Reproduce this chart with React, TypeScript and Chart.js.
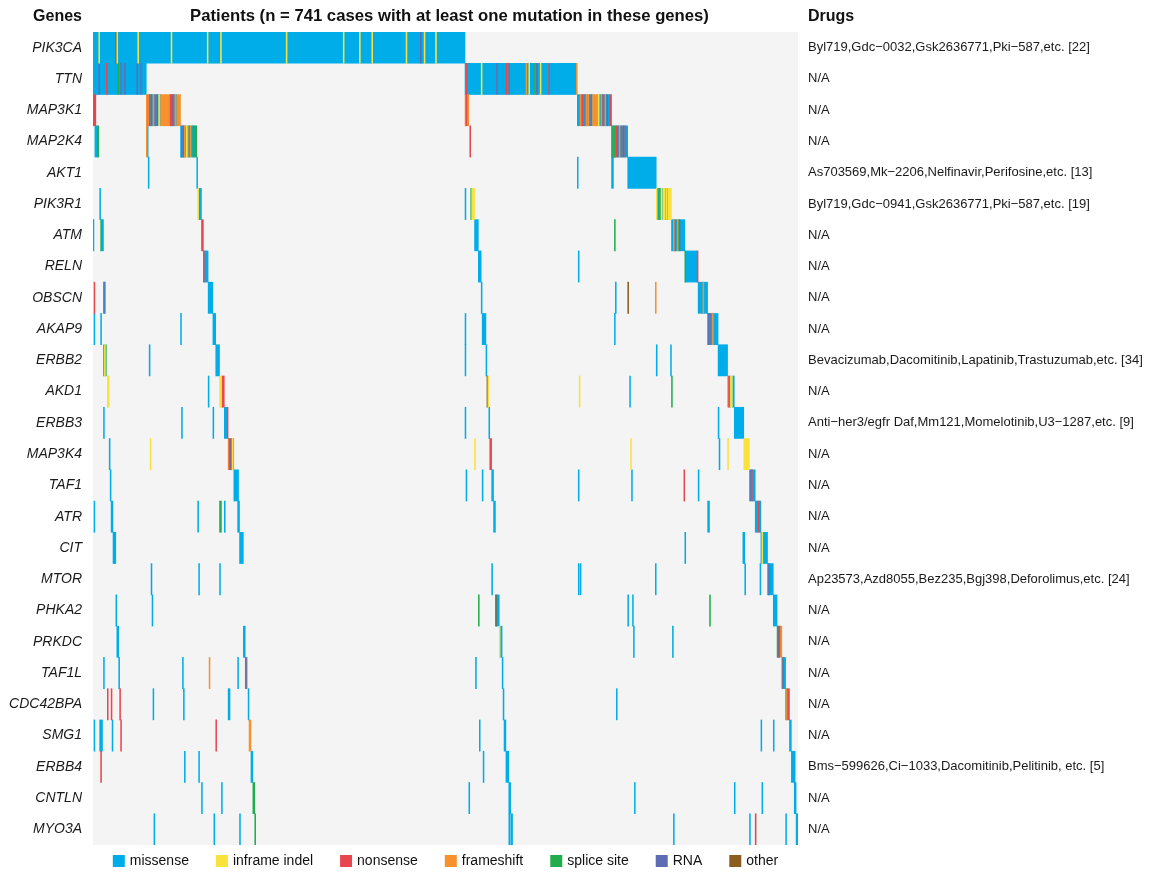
import { useEffect, useRef } from "react";
import { Chart, registerables } from "chart.js";

Chart.register(...registerables);

type Code = "m" | "i" | "n" | "f" | "s" | "r" | "o";
// [first patient, last patient (inclusive), alteration type]
type Run = [number, number, Code];

const FONT = '"Liberation Sans", Arial, Helvetica, sans-serif';
const PATIENT_COUNT = 741;

const TITLE = "Patients (n = 741 cases with at least one mutation in these genes)";
const HEADER_GENES = "Genes";
const HEADER_DRUGS = "Drugs";

const genes = [
  "PIK3CA", "TTN", "MAP3K1", "MAP2K4", "AKT1", "PIK3R1", "ATM", "RELN", "OBSCN",
  "AKAP9", "ERBB2", "AKD1", "ERBB3", "MAP3K4", "TAF1", "ATR", "CIT", "MTOR",
  "PHKA2", "PRKDC", "TAF1L", "CDC42BPA", "SMG1", "ERBB4", "CNTLN", "MYO3A",
];

const drugs = [
  "Byl719,Gdc\u22120032,Gsk2636771,Pki\u2212587,etc. [22]",
  "N/A",
  "N/A",
  "N/A",
  "As703569,Mk\u22122206,Nelfinavir,Perifosine,etc. [13]",
  "Byl719,Gdc\u22120941,Gsk2636771,Pki\u2212587,etc. [19]",
  "N/A",
  "N/A",
  "N/A",
  "N/A",
  "Bevacizumab,Dacomitinib,Lapatinib,Trastuzumab,etc. [34]",
  "N/A",
  "Anti\u2212her3/egfr Daf,Mm121,Momelotinib,U3\u22121287,etc. [9]",
  "N/A",
  "N/A",
  "N/A",
  "N/A",
  "Ap23573,Azd8055,Bez235,Bgj398,Deforolimus,etc. [24]",
  "N/A",
  "N/A",
  "N/A",
  "N/A",
  "N/A",
  "Bms\u2212599626,Ci\u22121033,Dacomitinib,Pelitinib, etc. [5]",
  "N/A",
  "N/A",
];

const typeCodes: Code[] = ["m", "i", "n", "f", "s", "r", "o"];
const typeLabels = ["missense", "inframe indel", "nonsense", "frameshift", "splice site", "RNA", "other"];
const typeColors = ["#00ADE9", "#F9E23C", "#E8464F", "#F7912E", "#22AD4C", "#5D6CB3", "#8B5E1F"];
const BACKGROUND = "#F4F4F4";

const PIK3CA: Run[] = [
  [0, 5, "m"], [6, 6, "i"], [7, 23, "m"], [24, 24, "o"], [25, 25, "i"], [26, 46, "m"], [47, 47, "i"],
  [48, 81, "m"], [82, 82, "i"], [83, 119, "m"], [120, 120, "i"], [121, 133, "m"], [134, 134, "i"],
  [135, 202, "m"], [203, 203, "i"], [204, 262, "m"], [263, 263, "i"], [264, 279, "m"], [280, 280, "i"],
  [281, 292, "m"], [293, 293, "i"], [294, 328, "m"], [329, 329, "i"], [330, 343, "m"], [344, 344, "r"],
  [345, 347, "m"], [348, 348, "i"], [349, 359, "m"], [360, 360, "i"], [361, 390, "m"],
];

const TTN: Run[] = [
  [0, 5, "m"], [6, 6, "r"], [7, 13, "m"], [14, 14, "n"], [15, 25, "m"], [26, 26, "s"], [27, 28, "m"],
  [29, 29, "r"], [30, 32, "m"], [33, 33, "r"], [34, 45, "m"], [46, 46, "r"], [47, 49, "m"], [50, 50, "r"],
  [51, 55, "m"],
  [391, 391, "m"], [392, 392, "n"], [393, 407, "m"], [408, 408, "i"], [409, 423, "m"], [424, 424, "r"],
  [425, 433, "m"], [434, 434, "n"], [435, 436, "m"], [437, 437, "n"], [438, 454, "m"], [455, 455, "f"],
  [456, 457, "m"], [458, 458, "i"], [459, 462, "m"], [463, 463, "s"], [464, 465, "m"], [466, 466, "r"],
  [467, 469, "m"], [470, 470, "i"], [471, 478, "m"], [479, 479, "n"], [480, 507, "m"], [508, 508, "f"],
];

const MAP3K1: Run[] = [
  [0, 2, "n"],
  [56, 56, "f"], [57, 57, "m"], [58, 58, "f"], [59, 59, "n"], [60, 60, "m"], [61, 61, "r"], [62, 62, "m"],
  [63, 63, "f"], [64, 64, "m"], [65, 65, "n"], [66, 66, "m"], [67, 67, "r"], [68, 68, "m"], [69, 69, "i"],
  [70, 70, "m"], [71, 80, "f"], [81, 81, "n"], [82, 82, "m"], [83, 83, "r"], [84, 84, "n"], [85, 85, "m"],
  [86, 86, "f"], [87, 87, "m"], [88, 91, "f"],
  [391, 391, "f"], [392, 392, "n"], [393, 394, "f"],
  [509, 511, "m"], [512, 512, "f"], [513, 513, "m"], [514, 514, "n"], [515, 516, "m"], [517, 517, "r"],
  [518, 518, "f"], [519, 519, "m"], [520, 520, "f"], [521, 522, "m"], [523, 523, "r"], [524, 524, "m"],
  [525, 530, "f"], [531, 531, "i"], [532, 533, "m"], [534, 534, "f"], [535, 535, "r"], [536, 536, "n"],
  [537, 537, "m"], [538, 538, "f"], [539, 539, "m"], [540, 540, "r"], [541, 542, "m"], [543, 544, "n"],
];

const MAP2K4: Run[] = [
  [2, 4, "m"], [5, 5, "s"], [56, 56, "f"], [57, 57, "m"],
  [92, 92, "m"], [93, 93, "r"], [94, 94, "m"], [95, 95, "r"], [96, 96, "f"], [97, 97, "m"], [98, 98, "i"],
  [99, 99, "f"], [100, 100, "m"], [101, 101, "s"], [102, 102, "f"], [103, 104, "m"], [105, 105, "s"],
  [106, 106, "m"], [107, 108, "s"],
  [396, 396, "n"],
  [545, 545, "r"], [546, 546, "s"], [547, 547, "m"], [548, 548, "s"], [549, 549, "m"], [550, 550, "n"],
  [551, 551, "r"], [552, 552, "m"], [553, 553, "f"], [554, 554, "m"], [555, 555, "n"], [556, 556, "m"],
  [557, 557, "r"], [558, 558, "m"], [559, 559, "n"], [560, 561, "m"],
];

const AKT1: Run[] = [[58, 58, "m"], [109, 109, "m"], [509, 509, "m"], [545, 546, "m"], [562, 591, "m"]];

const PIK3R1: Run[] = [
  [7, 7, "m"], [110, 110, "i"], [111, 111, "s"], [112, 113, "m"], [391, 391, "m"], [397, 397, "s"],
  [398, 400, "i"],
  [592, 592, "i"], [593, 593, "s"], [594, 595, "m"], [596, 596, "s"], [597, 597, "i"], [598, 598, "m"],
  [599, 600, "i"], [601, 601, "m"], [602, 602, "i"], [603, 603, "s"], [604, 607, "i"],
];

const ATM: Run[] = [
  [0, 0, "m"], [8, 8, "s"], [9, 10, "m"], [114, 115, "n"], [401, 404, "m"], [548, 548, "s"],
  [608, 609, "m"], [610, 610, "f"], [611, 611, "r"], [612, 613, "m"], [614, 614, "f"], [615, 615, "s"],
  [616, 616, "r"], [617, 621, "m"],
];

const RELN: Run[] = [
  [116, 116, "n"], [117, 120, "m"], [405, 407, "m"], [510, 510, "m"], [622, 622, "s"], [623, 634, "m"],
  [635, 635, "n"],
];

const OBSCN: Run[] = [
  [1, 1, "n"], [11, 11, "r"], [12, 12, "m"], [121, 125, "m"], [408, 408, "m"], [549, 549, "m"],
  [562, 562, "o"], [591, 591, "f"], [636, 640, "m"], [641, 641, "f"], [642, 645, "m"],
];

const AKAP9: Run[] = [
  [1, 1, "m"], [8, 8, "m"], [92, 92, "m"], [126, 128, "m"], [391, 391, "m"], [409, 412, "m"],
  [548, 548, "m"], [646, 646, "r"], [647, 647, "m"], [648, 648, "r"], [649, 650, "m"], [651, 651, "f"],
  [652, 656, "m"],
];

const ERBB2: Run[] = [
  [11, 11, "m"], [12, 12, "i"], [13, 13, "s"], [59, 59, "m"], [129, 132, "m"], [391, 391, "m"],
  [413, 413, "m"], [592, 592, "m"], [607, 607, "m"], [657, 666, "m"],
];

const AKD1: Run[] = [
  [15, 16, "i"], [121, 121, "m"], [133, 134, "i"], [135, 135, "f"], [136, 137, "n"], [414, 414, "o"],
  [415, 415, "i"], [511, 511, "i"], [564, 564, "m"], [608, 608, "s"], [667, 667, "f"], [668, 668, "n"],
  [669, 669, "m"], [670, 671, "i"], [672, 673, "m"],
];

const ERBB3: Run[] = [
  [11, 11, "m"], [93, 93, "m"], [126, 126, "m"], [138, 140, "m"], [141, 141, "n"], [391, 391, "m"],
  [416, 416, "m"], [657, 657, "m"], [674, 683, "m"],
];

const MAP3K4: Run[] = [
  [17, 17, "m"], [60, 60, "i"], [142, 142, "f"], [143, 143, "n"], [144, 144, "r"], [145, 145, "o"],
  [146, 146, "i"], [147, 147, "f"], [401, 401, "i"], [417, 418, "n"], [565, 565, "i"], [658, 658, "m"],
  [667, 667, "i"], [684, 689, "i"],
];

const TAF1: Run[] = [
  [18, 18, "m"], [148, 152, "m"], [392, 392, "m"], [409, 409, "m"], [419, 420, "m"], [510, 510, "m"],
  [566, 566, "m"], [621, 621, "n"], [636, 636, "m"], [690, 690, "m"], [691, 691, "r"], [692, 692, "n"],
  [693, 695, "m"],
];

const ATR: Run[] = [
  [1, 1, "m"], [19, 20, "m"], [110, 110, "m"], [133, 134, "s"], [138, 138, "m"], [152, 153, "m"],
  [421, 422, "m"], [646, 647, "m"], [696, 698, "m"], [699, 699, "n"], [700, 701, "m"],
];

const CIT: Run[] = [
  [21, 23, "m"], [154, 157, "m"], [622, 622, "m"], [683, 684, "m"], [702, 702, "m"], [703, 703, "i"],
  [704, 708, "m"],
];

const MTOR: Run[] = [
  [61, 61, "m"], [111, 111, "m"], [133, 133, "m"], [419, 419, "m"], [510, 510, "m"], [512, 512, "m"],
  [591, 591, "m"], [685, 685, "m"], [701, 701, "m"], [709, 709, "m"], [710, 710, "r"], [711, 714, "m"],
];

const PHKA2: Run[] = [
  [24, 24, "m"], [62, 62, "m"], [405, 405, "s"], [423, 423, "o"], [424, 426, "m"], [562, 562, "m"],
  [567, 567, "m"], [648, 648, "s"], [715, 718, "m"],
];

const PRKDC: Run[] = [
  [25, 26, "m"], [158, 159, "m"], [427, 427, "i"], [428, 429, "m"], [568, 568, "m"], [609, 609, "m"],
  [719, 719, "s"], [720, 720, "r"], [721, 721, "n"], [722, 723, "f"],
];

const TAF1L: Run[] = [
  [11, 11, "m"], [27, 27, "m"], [94, 94, "m"], [122, 122, "f"], [152, 152, "m"], [160, 160, "n"],
  [161, 161, "m"], [402, 402, "m"], [430, 430, "m"], [724, 724, "m"], [725, 725, "n"], [726, 727, "m"],
];

const CDC42BPA: Run[] = [
  [15, 15, "n"], [19, 19, "n"], [28, 28, "n"], [63, 63, "m"], [95, 95, "m"], [142, 143, "m"],
  [163, 163, "m"], [431, 431, "m"], [550, 550, "m"], [728, 728, "s"], [729, 729, "f"], [730, 731, "n"],
];

const SMG1: Run[] = [
  [1, 1, "m"], [7, 9, "m"], [20, 20, "m"], [29, 29, "n"], [129, 129, "n"], [164, 165, "f"],
  [406, 406, "m"], [432, 433, "m"], [702, 702, "m"], [715, 715, "m"], [732, 733, "m"],
];

const ERBB4: Run[] = [
  [8, 8, "n"], [96, 96, "m"], [111, 111, "m"], [166, 167, "m"], [410, 410, "m"], [434, 436, "m"],
  [734, 737, "m"],
];

const CNTLN: Run[] = [
  [114, 114, "m"], [135, 135, "m"], [168, 169, "s"], [395, 395, "m"], [437, 438, "m"], [569, 569, "m"],
  [674, 674, "m"], [703, 703, "m"], [737, 738, "m"],
];

const MYO3A: Run[] = [
  [64, 64, "m"], [127, 127, "m"], [154, 154, "m"], [170, 170, "s"], [437, 437, "m"], [439, 440, "m"],
  [610, 610, "m"], [690, 690, "m"], [696, 696, "n"], [728, 728, "m"], [739, 740, "m"],
];

const geneRuns: Run[][] = [
  PIK3CA, TTN, MAP3K1, MAP2K4, AKT1, PIK3R1, ATM, RELN, OBSCN, AKAP9, ERBB2, AKD1, ERBB3,
  MAP3K4, TAF1, ATR, CIT, MTOR, PHKA2, PRKDC, TAF1L, CDC42BPA, SMG1, ERBB4, CNTLN, MYO3A,
];

// Headers above the grid and the alteration-type key below it.
const oncoprintText = {
  id: "oncoprintText",
  afterDraw(chart: any) {
    const { ctx, chartArea, scales } = chart;
    const geneScale = scales.y;
    const drugScale = scales.y2;
    ctx.save();
    ctx.fillStyle = "#111111";
    ctx.textBaseline = "middle";
    const headY = chartArea.top - 15.5;
    ctx.font = `bold 16px ${FONT}`;
    ctx.textAlign = "right";
    ctx.fillText(HEADER_GENES, geneScale.right - 11, headY);
    ctx.textAlign = "left";
    ctx.fillText(HEADER_DRUGS, drugScale.left + 10, headY);
    ctx.font = `bold 16.7px ${FONT}`;
    ctx.textAlign = "center";
    ctx.fillText(TITLE, (chartArea.left + chartArea.right) / 2 + 4, headY);

    // key
    const box = 12;
    const boxGap = 5;
    const itemGap = 27;
    ctx.font = `14px ${FONT}`;
    const items = chart.data.datasets
      .filter((d: any) => d.label)
      .map((d: any) => ({ label: d.label, color: d.backgroundColor, w: ctx.measureText(d.label).width }));
    const total =
      items.reduce((s: number, it: any) => s + box + boxGap + it.w, 0) + itemGap * (items.length - 1);
    let x = (chartArea.left + chartArea.right) / 2 - total / 2;
    const keyY = chartArea.bottom + 16;
    ctx.textAlign = "left";
    for (const it of items) {
      ctx.fillStyle = it.color;
      ctx.fillRect(x, keyY - box / 2, box, box);
      ctx.fillStyle = "#111111";
      ctx.fillText(it.label, x + box + boxGap, keyY);
      x += box + boxGap + it.w + itemGap;
    }
    ctx.restore();
  },
};

export default function App() {
  const canvasRef = useRef<HTMLCanvasElement | null>(null);

  useEffect(() => {
    const canvas = canvasRef.current;
    if (!canvas) return;

    // missense blocks sit underneath the other alteration types
    const mutationSets = typeCodes.map((code, t) => ({
      label: typeLabels[t],
      data: geneRuns.flatMap((runs, g) =>
        runs
          .filter((r) => r[2] === code)
          .map((r) => ({ x: [r[0], r[1] + 1], y: genes[g] }))
      ),
      backgroundColor: typeColors[t],
      borderWidth: 0,
      inflateAmount: 0.3,
      grouped: false,
      order: code === "m" ? 2 : 1,
    }));

    const backgroundSet = {
      label: "",
      data: genes.map((g) => ({ x: [0, PATIENT_COUNT], y: g })),
      backgroundColor: BACKGROUND,
      borderWidth: 0,
      inflateAmount: 0.5,
      grouped: false,
      order: 10,
    };

    const chart = new Chart(canvas, {
      type: "bar",
      data: {
        labels: genes,
        datasets: [...mutationSets, backgroundSet] as any,
      },
      options: {
        indexAxis: "y",
        animation: false,
        responsive: false,
        events: [],
        layout: { padding: { top: 32, bottom: 27, left: 0, right: 0 } },
        datasets: { bar: { barPercentage: 1, categoryPercentage: 1 } },
        scales: {
          x: { type: "linear", min: 0, max: PATIENT_COUNT, display: false },
          y: {
            type: "category",
            position: "left",
            offset: true,
            grid: { display: false, drawTicks: false },
            border: { display: false },
            ticks: {
              autoSkip: false,
              padding: 11,
              color: "#1a1a1a",
              font: { family: FONT, size: 14, style: "italic" },
            },
            afterFit: (s: any) => {
              s.width = 93;
            },
          },
          y2: {
            type: "category",
            position: "right",
            labels: drugs,
            offset: true,
            grid: { display: false, drawTicks: false },
            border: { display: false },
            ticks: {
              autoSkip: false,
              padding: 10,
              color: "#1a1a1a",
              font: { family: FONT, size: 13 },
            },
            afterFit: (s: any) => {
              s.width = 378;
            },
          },
        } as any,
        plugins: {
          legend: { display: false },
          title: { display: false },
          tooltip: { enabled: false },
        },
      },
      plugins: [oncoprintText],
    });

    return () => chart.destroy();
  }, []);

  return (
    <div style={{ position: "absolute", left: 0, top: 0, width: 1176, height: 872, background: "#ffffff" }}>
      <canvas ref={canvasRef} width={1176} height={872} style={{ width: 1176, height: 872, display: "block" }} />
    </div>
  );
}
